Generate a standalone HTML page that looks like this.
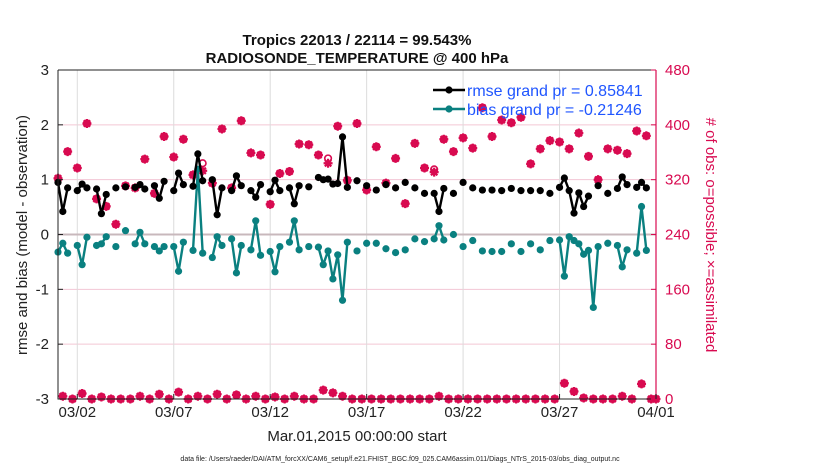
<!DOCTYPE html>
<html><head><meta charset="utf-8"><style>
body{margin:0;background:#fff;}
svg{display:block;font-family:"Liberation Sans",Arial,sans-serif;}
</style></head><body>
<svg id="chart" width="830" height="470" viewBox="0 0 830 470"></svg>
<script>
// ---- data (index = 6-hour step since Mar.01 00Z) ----
const rmseIdx=[0,1,2,4,5,6,8,9,10,12,14,16,17,18,20,21,22,24,25,26,28,29,30,32,33,34,36,37,38,40,41,42,44,45,46,48,49,50,52,54,55,56,57,58,59,60,62,64,66,68,70,72,74,76,78,79,80,82,84,86,88,90,92,94,96,98,100,102,104,105,106,107,108,109,110,112,114,116,117,118,120,121,122];
const rmseVal=[0.95,0.42,0.85,0.80,0.92,0.85,0.83,0.38,0.73,0.85,0.87,0.86,0.91,0.83,0.89,0.66,0.97,0.80,1.12,0.91,0.88,1.47,0.98,1.0,0.36,0.85,0.80,1.07,0.89,0.80,0.68,0.91,0.78,0.99,0.80,0.85,0.56,0.89,0.87,1.04,1.0,1.01,0.92,0.93,1.78,0.86,0.98,0.89,0.81,0.91,0.85,0.95,0.85,0.75,0.75,0.42,0.84,0.75,0.95,0.85,0.81,0.81,0.80,0.84,0.80,0.80,0.80,0.75,0.86,1.03,0.80,0.39,0.76,0.51,0.70,0.89,0.75,0.84,1.05,0.91,0.86,0.95,0.85];
const biasIdx=[0,1,2,4,5,6,8,9,10,12,14,16,17,18,20,21,22,24,25,26,28,29,30,32,33,34,36,37,38,40,41,42,44,45,46,48,49,50,52,54,55,56,57,58,59,60,62,64,66,68,70,72,74,76,78,79,80,82,84,86,88,90,92,94,96,98,100,102,104,105,106,107,108,109,110,111,112,114,116,117,118,120,121,122];
const biasVal=[-0.32,-0.16,-0.34,-0.2,-0.55,-0.05,-0.2,-0.17,-0.04,-0.22,0.07,-0.17,0.04,-0.17,-0.22,-0.3,-0.22,-0.22,-0.67,-0.14,-0.29,1.19,-0.34,-0.42,-0.04,-0.2,-0.08,-0.7,-0.2,-0.28,0.25,-0.38,-0.31,-0.68,-0.22,-0.14,0.25,-0.28,-0.22,-0.23,-0.55,-0.3,-0.81,-0.37,-1.2,-0.14,-0.3,-0.16,-0.16,-0.26,-0.33,-0.28,-0.08,-0.13,-0.08,0.16,-0.1,0.0,-0.22,-0.11,-0.3,-0.31,-0.31,-0.17,-0.31,-0.17,-0.28,-0.11,-0.1,-0.76,-0.04,-0.11,-0.17,-0.36,-0.29,-1.33,-0.22,-0.16,-0.2,-0.59,-0.28,-0.34,0.51,-0.29];
const obsHiIdx=[0,2,4,6,8,10,12,14,16,18,20,22,24,26,28,30,32,34,36,38,40,42,44,46,48,50,52,54,56,58,60,62,64,66,68,70,72,74,76,78,80,82,84,86,88,90,92,94,96,98,100,102,104,106,108,110,112,114,116,118,120,122];
const obsHiVal=[322,361,337,402,292,281,255,311,308,350,300,383,353,379,327,333,315,394,308,406,359,356,284,329,332,372,371,356,344,398,319,402,305,368,315,351,285,373,337,331,379,361,381,366,425,383,407,403,411,343,365,377,375,365,388,354,320,365,363,358,391,384];
const possHiVal=[322,361,337,402,292,281,255,311,308,350,300,383,353,379,327,344,315,394,308,406,359,356,284,329,332,372,371,356,351,398,319,402,305,368,315,351,285,373,337,335,379,361,381,366,425,383,407,403,411,343,365,377,375,365,388,354,320,365,363,358,391,384];
const obsLoIdx=[1,3,5,7,9,11,13,15,17,19,21,23,25,27,29,31,33,35,37,39,41,43,45,47,49,51,53,55,57,59,61,63,65,67,69,71,73,75,77,79,81,83,85,87,89,91,93,95,97,99,101,103,105,107,109,111,113,115,117,119,121,123,124];
const obsLoVal=[4,0,8,0,3,0,0,0,4,0,7,0,10,0,4,0,7,0,6,0,4,0,3,0,4,0,0,13,9,4,0,0,0,0,0,0,0,0,0,4,0,0,0,0,0,0,0,0,0,0,0,0,23,11,1.5,0,0,0,4,0,22,0,0];
const xTickDays=[1,6,11,16,21,26,31];
const xTickLabels=['03/02','03/07','03/12','03/17','03/22','03/27','04/01'];
const yTicks=[-3,-2,-1,0,1,2,3];
const y2Ticks=[0,80,160,240,320,400,480];

const L=58,R=656,T=70,B=399;
const xS=i=>L+(i/4)*(R-L)/31;
const xD=d=>L+d*(R-L)/31;
const yS=v=>B-(v+3)/6*(B-T);
const y2S=v=>B-v/480*(B-T);
const NS='http://www.w3.org/2000/svg';
const svg=document.getElementById('chart');
function mk(tag,attrs,parent){const e=document.createElementNS(NS,tag);for(const k in attrs)e.setAttribute(k,attrs[k]);(parent||svg).appendChild(e);return e;}
const RED='#d80a50',TEAL='#0a8080',BLUE='#1f55ff';

// grid
yTicks.forEach(v=>{if(v===0||v===3||v===-3)return;const g=mk('line',{x1:L,x2:R,y1:yS(v),y2:yS(v),stroke:'#f3c6d4','stroke-width':1});

});
xTickDays.forEach(d=>{const g=mk('line',{x1:xD(d),x2:xD(d),y1:T,y2:B,stroke:'#dcdcdc','stroke-width':1});

});
const zl=mk('line',{x1:L,x2:R,y1:yS(0),y2:yS(0),stroke:'#c8b8bc','stroke-width':2});



// obs markers
function obsMark(x,y,poss){
  const g=mk('g',{});
  
  
  mk('circle',{cx:x,cy:poss,r:3.3,fill:'none',stroke:RED,'stroke-width':1.6},g);
  mk('path',{d:`M${x-4.5} ${y}h9M${x} ${y-4.5}v9M${x-3.2} ${y-3.2}l6.4 6.4M${x-3.2} ${y+3.2}l6.4 -6.4`,stroke:RED,'stroke-width':2.2},g);
  mk('circle',{cx:x,cy:y,r:2.6,fill:RED},g);
}
obsHiIdx.forEach((i,k)=>obsMark(xS(i),y2S(obsHiVal[k]),y2S(possHiVal[k])));
obsLoIdx.forEach((i,k)=>obsMark(xS(i),y2S(obsLoVal[k]),y2S(obsLoVal[k])));

// series
function series(idx,val,color,name){
  let d='',prev=null;
  idx.forEach((i,k)=>{const x=xS(i),y=yS(val[k]);d+=(prev!==null&&i-prev===1?'L':'M')+x.toFixed(1)+' '+y.toFixed(1);prev=i;});
  const p=mk('path',{d:d,fill:'none',stroke:color,'stroke-width':2.4,'stroke-linejoin':'round'});
  
  
  idx.forEach((i,k)=>{const c=mk('circle',{cx:xS(i),cy:yS(val[k]),r:3.6,fill:color});
  
  });
}
series(biasIdx,biasVal,TEAL,'bias');
series(rmseIdx,rmseVal,'#000','rmse');

// axes
const ax=mk('path',{d:`M${L} ${T}V${B}H${R}`,fill:'none',stroke:'#222','stroke-width':1});


mk('line',{x1:L,x2:R,y1:T,y2:T,stroke:'#222','stroke-width':1});
const ax2=mk('line',{x1:R,x2:R,y1:T,y2:B,stroke:RED,'stroke-width':1.2});


yTicks.forEach(v=>{mk('line',{x1:L,x2:L+5,y1:yS(v),y2:yS(v),stroke:'#222'});
 const t=mk('text',{x:L-9,y:yS(v)+5,'text-anchor':'end','font-size':15,fill:'#222'});t.textContent=v;
 
 });
y2Ticks.forEach(v=>{mk('line',{x1:R-5,x2:R,y1:y2S(v),y2:y2S(v),stroke:RED});
 const t=mk('text',{x:R+9,y:y2S(v)+5,'font-size':15,fill:RED});t.textContent=v;
 
 });
xTickDays.forEach((d,k)=>{mk('line',{x1:xD(d),x2:xD(d),y1:B,y2:B-5,stroke:'#222'});
 const t=mk('text',{x:xD(d),y:B+18,'text-anchor':'middle','font-size':15,fill:'#222'});t.textContent=xTickLabels[k];
 
 });
</script>
<svg width="0" height="0" style="position:absolute"></svg>
<div style="position:absolute;left:0;top:0;width:830px;height:470px;pointer-events:none;font-family:'Liberation Sans',Arial,sans-serif;">
<svg width="830" height="470" style="position:absolute;left:0;top:0">
<text x="357" y="45" text-anchor="middle" font-size="15" font-weight="bold" fill="#111">Tropics 22013 / 22114 = 99.543%</text>
<text x="357" y="63" text-anchor="middle" font-size="15" font-weight="bold" fill="#111">RADIOSONDE_TEMPERATURE @ 400 hPa</text>
<text x="357" y="441" text-anchor="middle" font-size="15" fill="#222">Mar.01,2015 00:00:00 start</text>
<text transform="translate(27,235) rotate(-90)" text-anchor="middle" font-size="15" fill="#222">rmse and bias (model - observation)</text>
<text transform="translate(706,235) rotate(90)" text-anchor="middle" font-size="15" fill="#d80a50"># of obs: o=possible; ×=assimilated</text>
<text x="400" y="461" text-anchor="middle" font-size="7" fill="#222">data file: /Users/raeder/DAI/ATM_forcXX/CAM6_setup/f.e21.FHIST_BGC.f09_025.CAM6assim.011/Diags_NTrS_2015-03/obs_diag_output.nc</text>
<g>
<g>
<line x1="433" x2="465" y1="90" y2="90" stroke="#000" stroke-width="2.4"/><circle cx="449" cy="90" r="3.6" fill="#000"/>
<text x="467" y="96" font-size="16" fill="#1f55ff">rmse grand pr = 0.85841</text></g>
<g>
<line x1="433" x2="465" y1="109" y2="109" stroke="#0a8080" stroke-width="2.4"/><circle cx="449" cy="109" r="3.6" fill="#0a8080"/>
<text x="467" y="115" font-size="16" fill="#1f55ff">bias grand pr = -0.21246</text></g>
</g>
</svg></div>
</body></html>
